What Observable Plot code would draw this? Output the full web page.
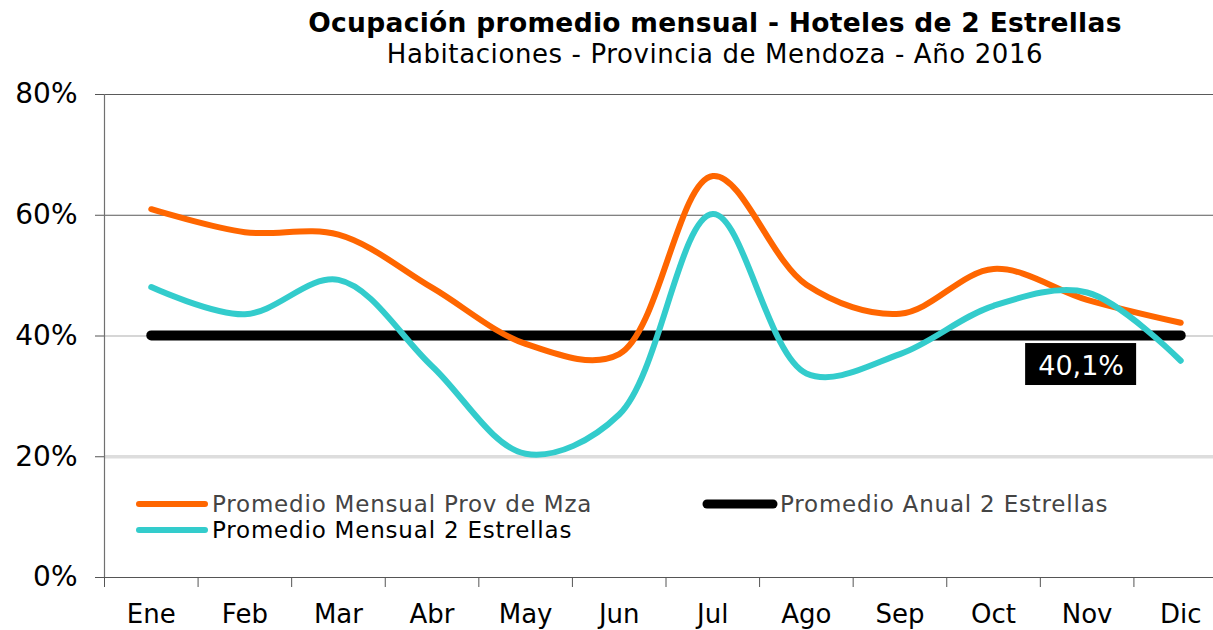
<!DOCTYPE html>
<html>
<head>
<meta charset="utf-8">
<script src="https://cdn.jsdelivr.net/npm/d3@7"></script>
<script src="https://cdn.jsdelivr.net/npm/@observablehq/plot@0.6"></script>
<style>
  html, body { margin: 0; padding: 0; background: #fff; }
  #wrap { position: relative; width: 1213px; height: 630px; overflow: hidden; font-family: "DejaVu Sans", Verdana, sans-serif; }
  .title { position: absolute; left: 715px; transform: translateX(-50%); white-space: nowrap; color: #000; }
  #t1 { top: 9px; font-weight: bold; font-size: 26.5px; line-height: 27px; letter-spacing: 0.3px; }
  #t2 { top: 41px; font-size: 26px; line-height: 27px; letter-spacing: 0.6px; }
  #chart { position: absolute; left: 0; top: 0; }
</style>
</head>
<body>
<div id="wrap">
  <div id="chart"></div>
  <div class="title" id="t1">Ocupación promedio mensual - Hoteles de 2 Estrellas</div>
  <div class="title" id="t2">Habitaciones - Provincia de Mendoza - Año 2016</div>
</div>
<script>
// ---- Data ----
const months = ["Ene", "Feb", "Mar", "Abr", "May", "Jun", "Jul", "Ago", "Sep", "Oct", "Nov", "Dic"];
const provMza = [61.0, 57.2, 56.8, 48.0, 38.7, 37.0, 66.5, 48.5, 43.7, 51.1, 46.0, 42.2];
const dosEstrellas = [48.1, 43.6, 49.3, 35.0, 20.5, 27.0, 60.2, 33.8, 37.0, 45.0, 47.2, 35.9];
const promedioAnual = 40.1;
const yTicks = [0, 20, 40, 60, 80];
const seriesNames = ["Promedio Mensual Prov de Mza", "Promedio Anual 2 Estrellas", "Promedio Mensual 2 Estrellas"];
const labelMonth = "Nov";

// ---- Tables ----
const rowsProv = months.map((m, i) => ({i, v: provMza[i]}));
const rowsDos = months.map((m, i) => ({i, v: dosEstrellas[i]}));
const rowsAnual = months.map((m, i) => ({i, v: promedioAnual}));
const li = months.indexOf(labelMonth);
const labelRow = [{i: li, v: promedioAnual, text: promedioAnual.toFixed(1).replace(".", ",") + "%"}];

const ORANGE = "#FF6600", TEAL = "#33CCCC", BLACK = "#000000";

const chart = Plot.plot({
  width: 1213,
  height: 630,
  marginTop: 94,
  marginBottom: 53,
  marginLeft: 104,
  marginRight: 0,
  style: {fontFamily: "DejaVu Sans, Verdana, sans-serif", background: "transparent", overflow: "visible", color: "#000"},
  x: {type: "linear", domain: [-0.5, 11.5], range: [104, 1227]},
  y: {domain: [0, 80]},
  marks: [
    Plot.ruleY([80, 60], {stroke: "#5a5a5a", strokeWidth: 1}),
    Plot.ruleY([40], {stroke: "#c8c8c8", strokeWidth: 1.5}),
    Plot.ruleY([20], {stroke: "#dddddd", strokeWidth: 3.5}),
    Plot.ruleX([-0.5], {stroke: "#707070", strokeWidth: 1.2}),
    Plot.ruleY([0], {stroke: "#555", strokeWidth: 1.2}),
    Plot.axisY({ticks: yTicks, tickFormat: d => d + "%", tickSize: 9, tickPadding: 18, fontSize: 28, stroke: "#555", label: null}),
    Plot.axisX({ticks: d3.range(-0.5, 11, 1), tickSize: 10, tickFormat: () => "", stroke: "#555", label: null}),
    Plot.axisX({ticks: d3.range(12), tickSize: 0, tickPadding: 27, tickFormat: i => months[i], fontSize: 26, label: null}),
    Plot.line(rowsAnual, {x: "i", y: "v", stroke: BLACK, strokeWidth: 10, strokeLinecap: "round"}),
    Plot.line(rowsProv, {x: "i", y: "v", stroke: ORANGE, strokeWidth: 6, curve: "catmull-rom", strokeLinejoin: "round"}),
    Plot.line(rowsDos, {x: "i", y: "v", stroke: TEAL, strokeWidth: 6, curve: "catmull-rom", strokeLinejoin: "round"}),
    Plot.rect(labelRow, {x1: d => d.i - 0.593, x2: d => d.i + 0.593, y1: d => d.v - 1.35, y2: d => d.v - 8.3, dx: -6, fill: BLACK}),
    Plot.text(labelRow, {x: "i", y: "v", text: "text", dx: -6, dy: 31, fill: "#fff", fontSize: 27})
  ]
});
document.getElementById("chart").appendChild(chart);

// ---- Legend (inside the plot area) ----
const svg = d3.select(chart);
const lg = svg.append("g")
  .attr("font-family", "DejaVu Sans, Verdana, sans-serif")
  .attr("font-size", 23)
  .attr("text-anchor", "start");
const legendItems = [
  {name: seriesNames[0], color: ORANGE, x: 137, y: 504, w: 6, tc: "#444"},
  {name: seriesNames[1], color: BLACK, x: 705, y: 504, w: 9, tc: "#444"},
  {name: seriesNames[2], color: TEAL, x: 137, y: 530, w: 6, tc: "#000"}
];
legendItems.forEach(d => {
  lg.append("line").attr("x1", d.x + 2).attr("x2", d.x + 68).attr("y1", d.y).attr("y2", d.y)
    .attr("stroke", d.color).attr("stroke-width", d.w).attr("stroke-linecap", "round");
  lg.append("text").attr("x", d.x + 75).attr("y", d.y + 8).attr("fill", d.tc)
    .attr("text-anchor", "start").attr("letter-spacing", 0.8).text(d.name);
});
</script>
</body>
</html>
